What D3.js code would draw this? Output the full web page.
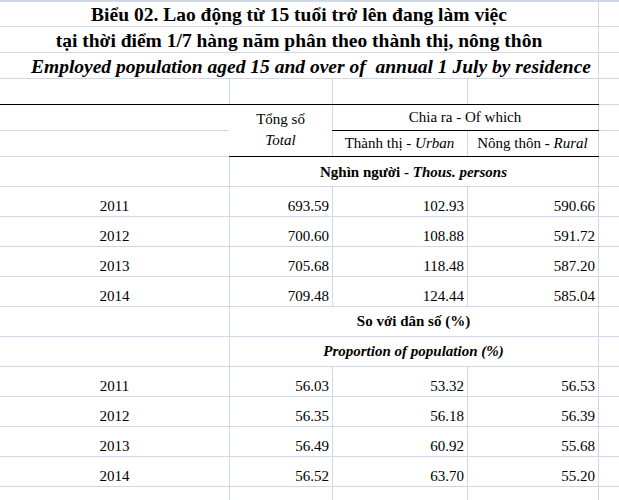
<!DOCTYPE html>
<html>
<head>
  <meta charset="utf-8">
  <style>
  body { margin: 0; background: #fff; }
  #sheet svg {
    display: block;
    font-family: 'Times New Roman', 'Liberation Serif', serif;
  }
  </style>
</head>
<body>
  <script src="https://d3js.org/d3.v7.min.js"></script>

  <div id="sheet"></div>
  <script>
  // data
  const titleLines = [
    'Biểu 02. Lao động từ 15 tuổi trở lên đang làm việc',
    'tại thời điểm 1/7 hàng năm phân theo thành thị, nông thôn',
    'Employed population aged 15 and over of  annual 1 July by residence'
  ];
  const years = ['2011', '2012', '2013', '2014'];
  const totalThous = [693.59, 700.60, 705.68, 709.48];
  const urbanThous = [102.93, 108.88, 118.48, 124.44];
  const ruralThous = [590.66, 591.72, 587.20, 585.04];
  const totalPct = [56.03, 56.35, 56.49, 56.52];
  const urbanPct = [53.32, 56.18, 60.92, 63.70];
  const ruralPct = [56.53, 56.39, 55.68, 55.20];

  const width = 619, height = 500;
  const gridColor = '#d0d7e5';
  const fmt = d3.format('.2f');

  // sheet layout: column edges and row heights (like excel cells)
  const colX = [0, 229, 332, 467, 598, 619];
  const rowH = [25, 26, 26, 26, 26, 26, 30, 30, 30, 30, 30, 30, 30, 30, 30, 30, 30, 30];
  const rowY = [1];
  rowH.forEach(h => rowY.push(rowY[rowY.length - 1] + h));

  // row index -> what it holds
  const ROW_HEAD1 = 4, ROW_HEAD2 = 5, ROW_UNIT = 6, ROW_DATA1 = 7,
        ROW_PCT = 11, ROW_PROP = 12, ROW_DATA2 = 13;

  const svg = d3.select('#sheet').append('svg')
    .attr('width', width)
    .attr('height', height);

  const grid = svg.append('g').attr('class', 'grid');
  const borders = svg.append('g').attr('class', 'borders');
  const texts = svg.append('g').attr('class', 'texts');

  // vertical gridlines hidden by merged / filled cells
  function vHidden(r, k) {
    if (r <= 2) return k !== 4;
    if (r === ROW_HEAD1) return k === 1 || k === 3;
    if (r === ROW_HEAD2) return k === 1;
    if (r === ROW_UNIT || r === ROW_PCT || r === ROW_PROP) return k === 2 || k === 3;
    return false;
  }
  var vSegs = [];
  rowH.forEach((h, r) => {
    for (var k = 1; k <= 4; k++) {
      if (!vHidden(r, k)) vSegs.push({x: colX[k], y0: rowY[r], y1: rowY[r + 1]});
    }
  });
  grid.selectAll('line.v')
    .data(vSegs)
    .enter().append('line')
    .attr('class', 'v')
    .attr('x1', d => d.x + 0.5).attr('x2', d => d.x + 0.5)
    .attr('y1', d => d.y0).attr('y2', d => d.y1)
    .style('stroke', gridColor)
    .style('stroke-width', 1);

  var hSegs = [];
  rowY.forEach((y, i) => {
    for (var c = 0; c < 5; c++) {
      // Tong so cell spans the two header rows
      if (i === ROW_HEAD2 && c === 1) continue;
      hSegs.push({y: y, x0: colX[c], x1: colX[c + 1]});
    }
  });
  hSegs.unshift({y: 0, x0: 0, x1: width});
  grid.selectAll('line.h')
    .data(hSegs)
    .enter().append('line')
    .attr('class', 'h')
    .attr('x1', d => d.x0).attr('x2', d => d.x1)
    .attr('y1', d => d.y + 0.5).attr('y2', d => d.y + 0.5)
    .style('stroke', gridColor)
    .style('stroke-width', 1);

  // black borders round the table header
  const blackSegs = [
    {y: rowY[ROW_HEAD1], x0: colX[0], x1: colX[4]},
    {y: rowY[ROW_HEAD2], x0: colX[2], x1: colX[4]},
    {y: rowY[ROW_UNIT], x0: colX[1], x1: colX[4]}
  ];
  borders.selectAll('line')
    .data(blackSegs)
    .enter().append('line')
    .attr('x1', d => d.x0).attr('x2', d => d.x1 + 1)
    .attr('y1', d => d.y + 0.5).attr('y2', d => d.y + 0.5)
    .style('stroke', '#000')
    .style('stroke-width', 1);

  const cx = c => (colX[c] + colX[c + 1]) / 2;
  const spanX = (c0, c1) => (colX[c0] + colX[c1 + 1]) / 2;

  // title
  texts.selectAll('text.title')
    .data(titleLines)
    .enter().append('text')
    .attr('class', 'title')
    .attr('x', (d, i) => spanX(0, 3) + (i === 2 ? 12 : 0))
    .attr('y', (d, i) => rowY[i + 1] - 5)
    .attr('text-anchor', 'middle')
    .style('font-size', '19.5px')
    .style('font-weight', 'bold')
    .style('font-style', (d, i) => i === 2 ? 'italic' : 'normal')
    .style('white-space', 'pre')
    .text(d => d);

  // helper for text made of regular + italic parts
  function label(x, y, parts, opts) {
    opts = opts || {};
    var t = texts.append('text')
      .attr('x', x).attr('y', y)
      .attr('text-anchor', opts.anchor || 'middle')
      .style('font-size', '15px')
      .style('font-weight', opts.bold ? 'bold' : 'normal');
    t.selectAll('tspan')
      .data(parts)
      .enter().append('tspan')
      .style('font-style', d => d.italic ? 'italic' : 'normal')
      .text(d => d.t);
    return t;
  }

  label(cx(1), 124, [{t: 'Tổng số'}]);
  label(cx(1), 145, [{t: 'Total', italic: true}]);
  label(spanX(2, 3), rowY[ROW_HEAD2] - 8, [{t: 'Chia ra - Of which'}]);
  label(cx(2), rowY[ROW_UNIT] - 8, [{t: 'Thành thị - '}, {t: 'Urban', italic: true}]);
  label(cx(3), rowY[ROW_UNIT] - 8, [{t: 'Nông thôn - '}, {t: 'Rural', italic: true}]);
  label(spanX(1, 3), rowY[ROW_UNIT + 1] - 9,
    [{t: 'Nghìn người - '}, {t: 'Thous. persons', italic: true}], {bold: true});
  label(spanX(1, 3), rowY[ROW_PCT + 1] - 10, [{t: 'So với dân số (%)'}], {bold: true});
  label(spanX(1, 3), rowY[ROW_PROP + 1] - 10,
    [{t: 'Proportion of population (%)', italic: true}], {bold: true});

  // the two blocks of numbers
  function block(startRow, total, urban, rural) {
    var rows = years.map((y, i) => ({year: y, vals: [total[i], urban[i], rural[i]], r: startRow + i}));
    var g = texts.append('g');
    var rowSel = g.selectAll('g')
      .data(rows)
      .enter().append('g')
      .attr('transform', d => `translate(0,${rowY[d.r + 1] - 5})`)
      .style('font-size', '15px');
    rowSel.append('text')
      .attr('x', cx(0))
      .attr('text-anchor', 'middle')
      .text(d => d.year);
    rowSel.selectAll('text.num')
      .data(d => d.vals)
      .enter().append('text')
      .attr('class', 'num')
      .attr('x', (d, i) => colX[i + 2] - 3)
      .attr('text-anchor', 'end')
      .text(d => fmt(d));
  }
  block(ROW_DATA1, totalThous, urbanThous, ruralThous);
  block(ROW_DATA2, totalPct, urbanPct, ruralPct);
  </script>
</body>
</html>
